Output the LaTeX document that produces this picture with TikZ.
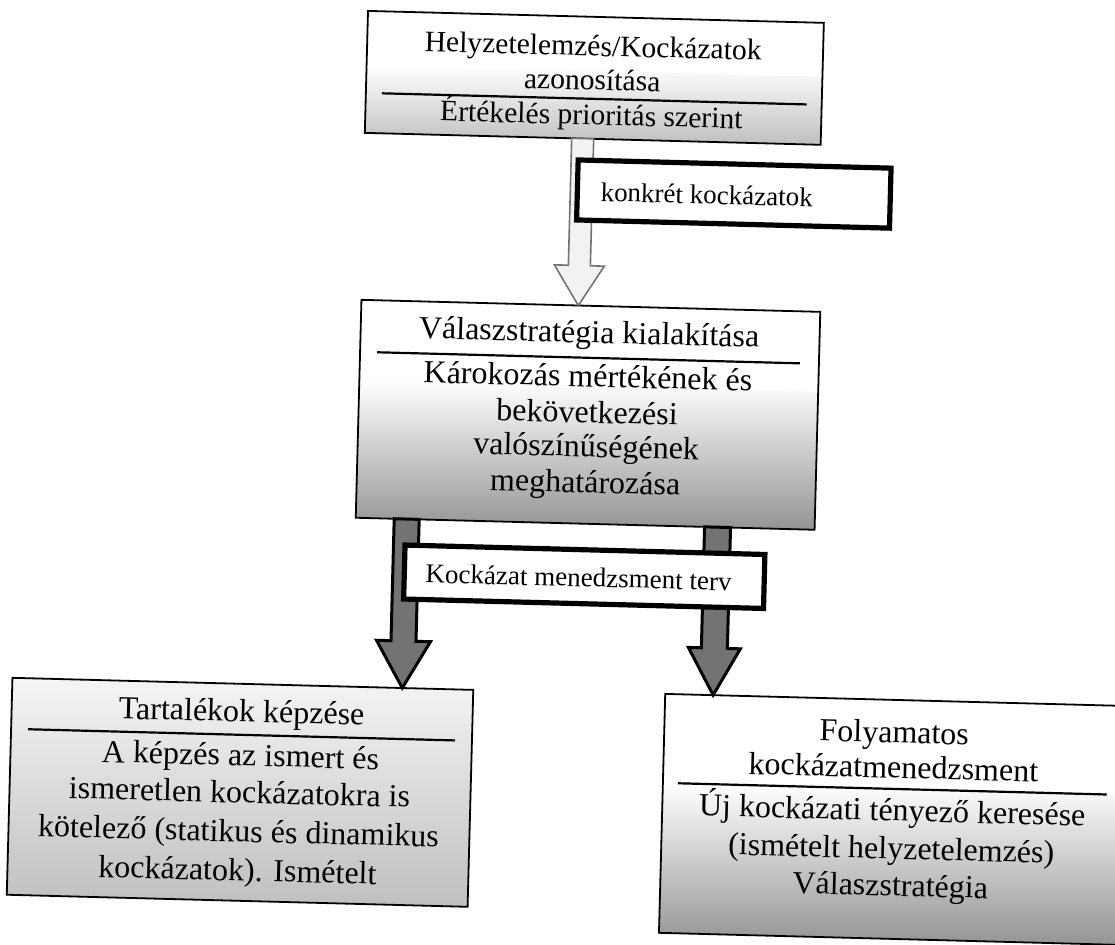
\documentclass[tikz,border=0pt]{standalone}
\usepackage{fontspec}
\setmainfont{Liberation Serif}
\usetikzlibrary{calc}
\tikzset{
 panel/.style={draw=black, line width=0.9pt, inner sep=0pt},
 divider/.style={line width=1.1pt},
 tag/.style={draw=black, line width=2.6pt, fill=white, inner sep=0pt},
 ln/.style={inner sep=0pt, text height=0.6em, text depth=0.1em},
 fA/.style={font=\fontsize{14.8}{17}\selectfont},
 fB/.style={font=\fontsize{16}{18}\selectfont},
 fC/.style={font=\fontsize{13.5}{16}\selectfont},
 warrow/.style={draw=black!55, fill=black!5, line width=0.8pt, line join=miter},
 darrow/.style={draw=black, fill=black!55, line width=1.5pt, line join=miter},
}
\newcommand\blockarrow[6]{\draw[#1] let \p1=(#2), \p2=(#3) in (\x1-#4,\y1) -- (\x1+#4,\y1) -- (\x1+#4,\y2+#6) -- (\x1+#5,\y2+#6) -- (\x1,\y2) -- (\x1-#5,\y2+#6) -- (\x1-#4,\y2+#6) -- cycle;}
\begin{document}
\begin{tikzpicture}[x=0.5pt,y=-0.5pt]
\useasboundingbox (0,0) rectangle (1115,944);
\clip (0,0) rectangle (1115,944);
\begin{scope}[rotate around={-1.5:(557,472)}, transform shape]
% panel fills
\fill[white] (356,16) rectangle (812,70);
\shade[top color=white, middle color=black!17, bottom color=black!25] (356,70) rectangle (812,138);
\fill[white] (357,305) rectangle (816,385);
\shade[top color=white, middle color=black!32, bottom color=black!42] (357,385) rectangle (816,523);
\shade[top color=black!4, middle color=black!17, bottom color=black!25] (18,692) rectangle (479,909);
\fill[white] (671,691) rectangle (1131,780);
\shade[top color=white, middle color=black!30, bottom color=black!42] (671,780) rectangle (1131,930);
% panels
\node[panel, minimum width=228pt, minimum height=61pt] (top) at (584,77) {};
\node[panel, minimum width=229.5pt, minimum height=109pt] (mid) at (586.5,414) {};
\node[panel, minimum width=230.5pt, minimum height=108.5pt] (lbox) at (248.5,800.5) {};
\node[panel, minimum width=230pt, minimum height=119.5pt] (rbox) at (901,810.5) {};
% dividers
\draw[divider] (372,98) -- (797,98);
\draw[divider] (374,357) -- (797,357);
\draw[divider] (35,743) -- (462,743);
\draw[divider] (686,780) -- (1115,780);
% texts
\node[fA, ln] (t1) at (582,50) {Helyzetelemzés/Kockázatok};
\node[fA, ln] (t2) at (582,84) {azonosítása};
\node[fA, ln] (t3) at (582,119) {Értékelés prioritás szerint};
\node[fB, ln] (m1) at (585.5,337) {Válaszstratégia kialakítása};
\node[fB, ln] (m2) at (585.5,381) {Károkozás mértékének és};
\node[fB, ln] (m3) at (585.5,417) {bekövetkezési};
\node[fB, ln] (m4) at (585.5,451) {valószínűségének};
\node[fB, ln] (m5) at (585.5,487) {meghatározása};
\node[fB, ln] (l1) at (248,725) {Tartalékok képzése};
\node[fB, ln] (l2) at (248,769) {A képzés az ismert és};
\node[fB, ln] (l3) at (248,806) {ismeretlen kockázatokra is};
\node[fB, ln] (l4) at (248,845) {kötelező (statikus és dinamikus};
\node[fB, ln] (l5) at (248,884) {kockázatok). Ismételt};
\node[fB, ln] (r1) at (901,729) {Folyamatos};
\node[fB, ln] (r2) at (901,764) {kockázatmenedzsment};
\node[fB, ln] (r3) at (901,807) {Új kockázati tényező keresése};
\node[fB, ln] (r4) at (901,845) {(ismételt helyzetelemzés)};
\node[fB, ln] (r5) at (901,882) {Válaszstratégia};
% arrows
\coordinate (w0) at (574,138); \coordinate (w1) at (574,305);
\blockarrow{warrow}{w0}{w1}{5.5pt}{12.5pt}{20pt}
\coordinate (la0) at (408,523); \coordinate (la1) at (408,692);
\blockarrow{darrow}{la0}{la1}{6.25pt}{13.5pt}{23.5pt}
\coordinate (ra0) at (719,523); \coordinate (ra1) at (719,691);
\blockarrow{darrow}{ra0}{ra1}{6.5pt}{13pt}{23.5pt}
% tags
\node[tag, minimum width=156.5pt, minimum height=30pt] (kk) at (726.5,189.5) {};
\node[fC, ln, anchor=west] (kkt) at (593,195) {konkrét kockázatok};
\node[tag, minimum width=180pt, minimum height=27pt] (km) at (587,576) {};
\node[fC, ln, anchor=west] (kmt) at (428,581) {Kockázat menedzsment terv};
\end{scope}
\end{tikzpicture}
\end{document}
